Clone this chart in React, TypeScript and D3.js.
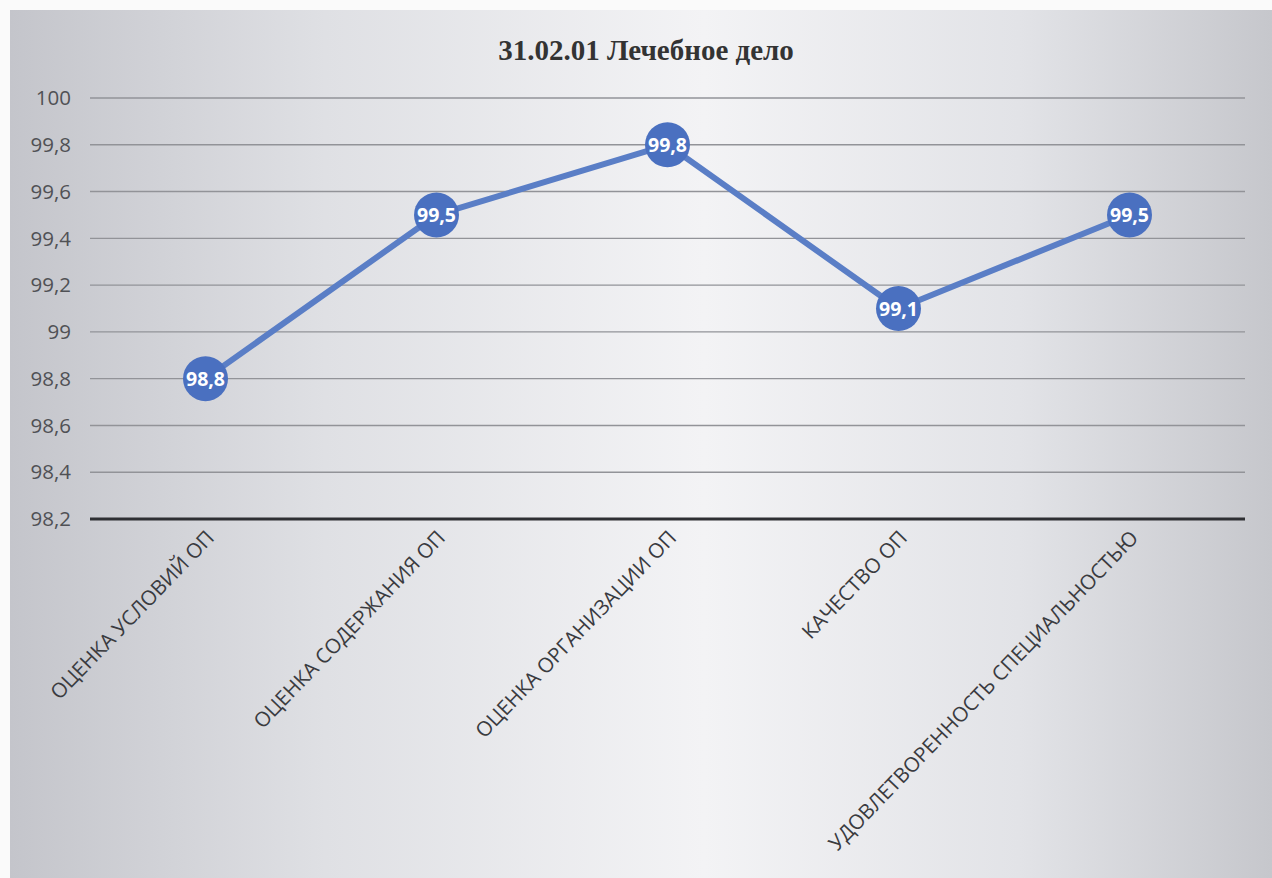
import React, { useEffect, useRef } from "react";
import * as d3 from "d3";

const title = "31.02.01 Лечебное дело";
const categories = [
  "ОЦЕНКА УСЛОВИЙ ОП",
  "ОЦЕНКА СОДЕРЖАНИЯ ОП",
  "ОЦЕНКА ОРГАНИЗАЦИИ ОП",
  "КАЧЕСТВО ОП",
  "УДОВЛЕТВОРЕННОСТЬ СПЕЦИАЛЬНОСТЬЮ",
];
const values = [98.8, 99.5, 99.8, 99.1, 99.5];
const yTicks = [98.2, 98.4, 98.6, 98.8, 99, 99.2, 99.4, 99.6, 99.8, 100];

const width = 1272;
const height = 878;
const margin = { top: 98, right: 27, bottom: 359, left: 90 };

function App() {
  const svgRef = useRef<SVGSVGElement>(null);

  useEffect(() => {
    if (!svgRef.current) return;
    const svg = d3.select(svgRef.current);
    svg.selectAll("*").remove();

    const fmt = (v: number) => String(v).replace(".", ",");

    // background gradient (scanned look)
    const defs = svg.append("defs");
    const grad = defs
      .append("linearGradient")
      .attr("id", "bg")
      .attr("x1", "0%")
      .attr("x2", "100%");
    [
      ["0%", "#c4c5cb"],
      ["25%", "#dfe0e4"],
      ["55%", "#f3f3f5"],
      ["80%", "#e2e3e7"],
      ["100%", "#c6c7cc"],
    ].forEach(([o, c]) => grad.append("stop").attr("offset", o).attr("stop-color", c));

    svg.append("rect").attr("width", width).attr("height", height).attr("fill", "#fafafa");
    svg
      .append("rect")
      .attr("x", 10)
      .attr("y", 10)
      .attr("width", width - 10)
      .attr("height", height - 10)
      .attr("fill", "url(#bg)");

    const innerW = width - margin.left - margin.right;

    const x = d3
      .scaleBand<string>()
      .domain(categories)
      .range([margin.left, margin.left + innerW]);

    const y = d3
      .scaleLinear()
      .domain([98.2, 100])
      .range([height - margin.bottom, margin.top]);

    // title
    svg
      .append("text")
      .attr("x", 646)
      .attr("y", 60)
      .attr("text-anchor", "middle")
      .style("font-family", "'Liberation Serif', 'Times New Roman', serif")
      .style("font-weight", "bold")
      .style("font-size", "29px")
      .attr("fill", "#333")
      .text(title);

    // gridlines
    svg
      .append("g")
      .selectAll("line")
      .data(yTicks.slice(1))
      .enter()
      .append("line")
      .attr("x1", margin.left)
      .attr("x2", margin.left + innerW)
      .attr("y1", (d) => y(d))
      .attr("y2", (d) => y(d))
      .attr("stroke", "#929398")
      .attr("stroke-width", 1.4);

    // baseline axis
    svg
      .append("line")
      .attr("x1", margin.left)
      .attr("x2", margin.left + innerW)
      .attr("y1", y(98.2))
      .attr("y2", y(98.2))
      .attr("stroke", "#2e2f33")
      .attr("stroke-width", 3);

    // y tick labels
    svg
      .append("g")
      .selectAll("text")
      .data(yTicks)
      .enter()
      .append("text")
      .attr("x", margin.left - 19)
      .attr("y", (d) => y(d))
      .attr("dy", "0.35em")
      .attr("text-anchor", "end")
      .style("font-family", "'Open Sans', 'Noto Sans', sans-serif")
      .style("font-size", "20.5px")
      .attr("fill", "#505155")
      .text((d) => fmt(d));

    // x labels rotated
    svg
      .append("g")
      .selectAll("text")
      .data(categories)
      .enter()
      .append("text")
      .attr(
        "transform",
        (d) => `translate(${(x(d) ?? 0) + x.bandwidth() / 2 + 10}, ${y(98.2) + 20}) rotate(-46)`
      )
      .attr("text-anchor", "end")
      .style("font-family", "'Open Sans', 'Noto Sans', sans-serif")
      .style("font-size", "20.5px")
      .attr("fill", "#3a3b3f")
      .text((d) => d);

    const cx = (i: number) => (x(categories[i]) ?? 0) + x.bandwidth() / 2;

    // line
    const line = d3
      .line<number>()
      .x((_, i) => cx(i))
      .y((d) => y(d));

    svg
      .append("path")
      .datum(values)
      .attr("d", line)
      .attr("fill", "none")
      .attr("stroke", "#5a7ec6")
      .attr("stroke-width", 6)
      .attr("stroke-linejoin", "round");

    // markers
    svg
      .append("g")
      .selectAll("circle")
      .data(values)
      .enter()
      .append("circle")
      .attr("cx", (_, i) => cx(i))
      .attr("cy", (d) => y(d))
      .attr("r", 22.5)
      .attr("fill", "#4a70c0");

    svg
      .append("g")
      .selectAll("text")
      .data(values)
      .enter()
      .append("text")
      .attr("x", (_, i) => cx(i))
      .attr("y", (d) => y(d))
      .attr("dy", "0.36em")
      .attr("text-anchor", "middle")
      .style("font-family", "'Open Sans', 'Noto Sans', sans-serif")
      .style("font-weight", "bold")
      .style("font-size", "19.5px")
      .attr("fill", "#ffffff")
      .text((d) => fmt(d));
  }, []);

  return (
    <svg
      ref={svgRef}
      width={width}
      height={height}
      style={{ position: "absolute", left: 0, top: 0 }}
    ></svg>
  );
}

export default App;
